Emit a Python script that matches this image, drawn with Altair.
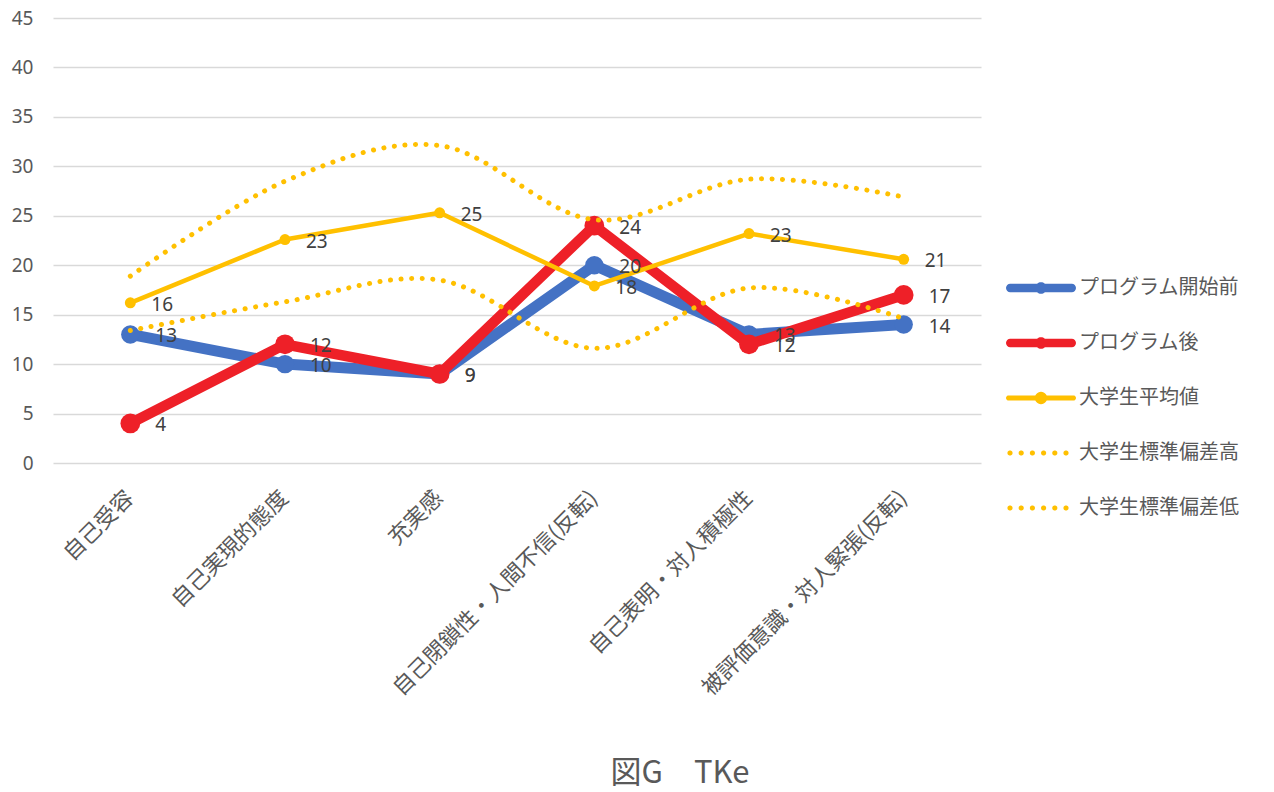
import math
import altair as alt
import pandas as pd

categories = ["自己受容", "自己実現的態度", "充実感", "自己閉鎖性・人間不信(反転)",
              "自己表明・対人積極性", "被評価意識・対人緊張(反転)"]
series_names = ["プログラム開始前", "プログラム後", "大学生平均値", "大学生標準偏差高", "大学生標準偏差低"]
before = [13, 10, 9, 20, 13, 14]
after = [4, 12, 9, 24, 12, 17]
average = [16.2, 22.6, 25.3, 17.9, 23.2, 20.6]
sd_high = [18.9, 28.5, 32.1, 24.6, 28.7, 26.9]
sd_low = [13.4, 16.3, 18.5, 11.6, 17.7, 14.6]
y_ticks = [0, 5, 10, 15, 20, 25, 30, 35, 40, 45]
title_text = "図G　TKe"

BLUE = "#4472C4"
RED = "#EE2028"
YELLOW = "#FFC000"
colors = [BLUE, RED, YELLOW, YELLOW, YELLOW]

rows = []
for name, vals in zip(series_names, [before, after, average, sd_high, sd_low]):
    for c, v in zip(categories, vals):
        rows.append({"cat": c, "series": name, "value": v})
df = pd.DataFrame(rows)

FONT = "Noto Sans, Noto Sans CJK JP"
S = 35.0  # legend symbol half length in px (size 4900)


def circ(cx, cy, r, n=28):
    pts = []
    for i in range(n):
        a = 2 * math.pi * i / n
        pts.append(f"{cx + r * math.cos(a):.4f},{cy + r * math.sin(a):.4f}")
    return "M" + " L".join(pts) + " Z"


def line_marker(half_t_px, r_px):
    t = half_t_px / S
    r = r_px / S
    x0, x1 = -1 + t, 1 - t
    p = f"M{x0:.4f},{-t:.4f} L{x1:.4f},{-t:.4f} L{x1:.4f},{t:.4f} L{x0:.4f},{t:.4f} Z "
    p += circ(x0, 0, t, 16) + " " + circ(x1, 0, t, 16) + " " + circ(0, 0, r)
    return p


def dots(r_px, n=6, start_px=-31, step_px=11.2):
    return " ".join(circ((start_px + k * step_px) / S, 0, r_px / S, 14) for k in range(n))


shapes = [line_marker(4.2, 5.8), line_marker(4.2, 5.8), line_marker(2.6, 6.2), dots(2.6), dots(2.6)]

xenc = alt.X("cat:N", sort=categories,
             scale=alt.Scale(type="point", padding=0.5, domain=categories),
             axis=alt.Axis(title=None, labelAngle=-45, labelAlign="right", labelBaseline="top",
                           labelPadding=24, labelOffset=-8, ticks=False, domain=False, grid=False,
                           labelFontSize=22, labelColor="#595959", labelFont="Noto Sans CJK JP",
                           labelLimit=500))
yenc = alt.Y("value:Q", scale=alt.Scale(domain=[0, 45], nice=False, zero=True),
             axis=alt.Axis(title=None, values=y_ticks, ticks=False, domain=False,
                           grid=True, gridColor="#d9d9d9", gridWidth=1.5,
                           labelFontSize=19, labelColor="#595959", labelFont=FONT,
                           labelPadding=20))

base = alt.Chart(df)


def series_line(name, color, width, **kw):
    return base.transform_filter(alt.datum.series == name).mark_line(
        color=color, strokeWidth=width, strokeCap="round", strokeJoin="round", **kw
    ).encode(x=xenc, y=yenc)


def series_points(name, color, size):
    return base.transform_filter(alt.datum.series == name).mark_circle(
        color=color, size=size, opacity=1
    ).encode(x=xenc, y=yenc)


def series_labels(name, dx):
    return base.transform_filter(alt.datum.series == name).mark_text(
        align="left", baseline="middle", dx=dx, dy=2, fontSize=19, color="#404040", font=FONT
    ).encode(x=xenc, y=yenc, text=alt.Text("value:Q", format=".0f"))


layers = [
    series_line(series_names[0], BLUE, 11), series_points(series_names[0], BLUE, 340),
    series_line(series_names[1], RED, 10.5), series_points(series_names[1], RED, 390),
    series_line(series_names[2], YELLOW, 4.5), series_points(series_names[2], YELLOW, 120),
    series_line(series_names[3], YELLOW, 5, strokeDash=[0.1, 10.5], interpolate="cardinal"),
    series_line(series_names[4], YELLOW, 5, strokeDash=[0.1, 10.5], interpolate="cardinal"),
    series_labels(series_names[0], 25),
    series_labels(series_names[1], 25),
    series_labels(series_names[2], 21),
]

legend_layer = base.transform_filter("false").mark_point(filled=True, opacity=1).encode(
    x=xenc, y=yenc,
    color=alt.Color("series:N", scale=alt.Scale(domain=series_names, range=colors), title=None),
    shape=alt.Shape("series:N", scale=alt.Scale(domain=series_names, range=shapes), title=None),
)
layers.append(legend_layer)

chart = alt.layer(*layers).properties(
    width=928, height=445,
    autosize=alt.AutoSizeParams(type="none"),
    padding={"left": 53, "top": 18, "right": 293, "bottom": 329},
    title=alt.TitleParams(title_text, orient="bottom", anchor="middle", fontSize=31,
                          font="Noto Sans CJK JP", fontWeight="normal", color="#595959",
                          offset=60, dx=163),
).configure_view(stroke=None).configure_legend(
    orient="none", legendX=952, legendY=234, symbolSize=4900, symbolOpacity=1,
    labelFontSize=20, labelColor="#595959", labelFont="Noto Sans CJK JP",
    labelOffset=2, rowPadding=9, labelLimit=400,
)

chart.save("out.html", embed_options={"renderer": "svg", "actions": False})
